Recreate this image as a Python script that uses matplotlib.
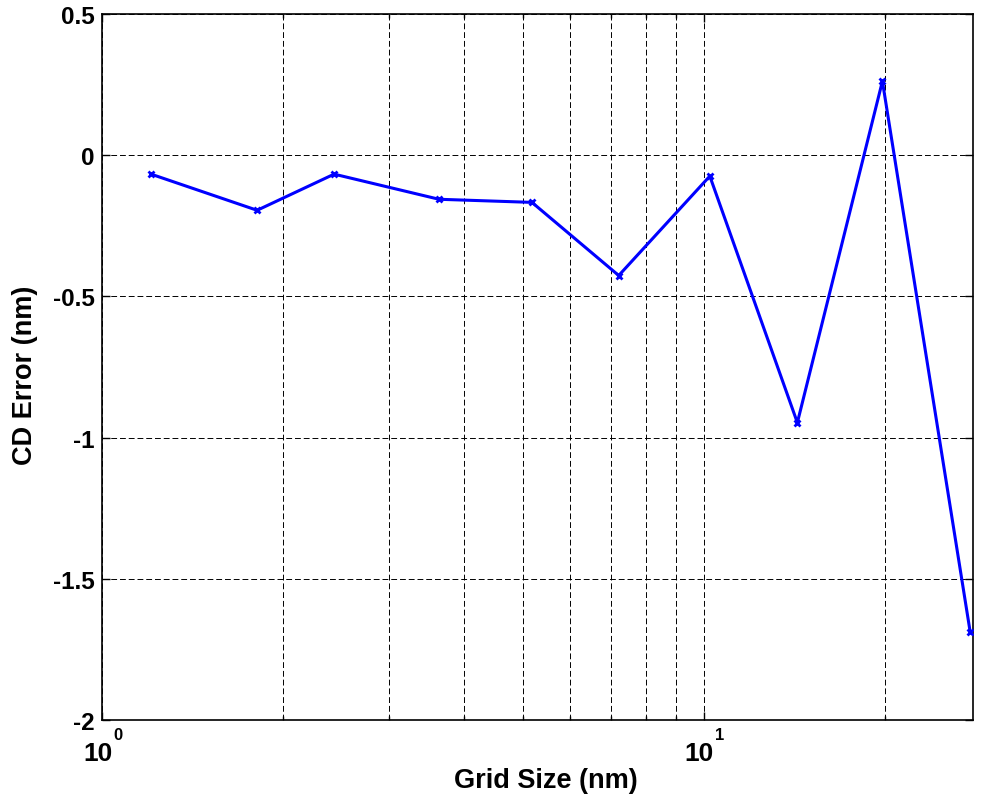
import numpy as np
import matplotlib
matplotlib.use("Agg")
import matplotlib.pyplot as plt
import matplotlib.ticker as mticker

# values
grid_size = [1.206, 1.81, 2.43, 3.63, 5.18, 7.22, 10.23, 14.3, 19.8, 27.7]
cd_error = [-0.067, -0.195, -0.067, -0.156, -0.167, -0.426, -0.074, -0.947, 0.262, -1.688]
y_ticks = [-2, -1.5, -1, -0.5, 0, 0.5]
y_labels = ["-2", "-1.5", "-1", "-0.5", "0", "0.5"]
x_decades = [0, 1]

plt.rcParams["font.family"] = ["Liberation Sans", "DejaVu Sans"]
plt.rcParams["font.weight"] = "bold"

fig = plt.figure(figsize=(9.85, 8.03), dpi=100)
ax = fig.add_axes([0.1036, 0.1021, 0.8842, 0.8792])

ax.plot(grid_size, cd_error, color="#0000ff", linewidth=2.2, marker="x",
        markersize=5, markeredgewidth=2, zorder=3)

ax.set_xscale("log")
ax.set_xlim(1, 28)
ax.set_ylim(-2, 0.5)
ax.set_yticks(y_ticks)
ax.set_yticklabels(y_labels)
ax.xaxis.set_major_locator(mticker.FixedLocator([10.0 ** d for d in x_decades]))
ax.xaxis.set_major_formatter(mticker.NullFormatter())
ax.xaxis.set_minor_locator(mticker.LogLocator(base=10, subs=np.arange(2, 10)))
ax.xaxis.set_minor_formatter(mticker.NullFormatter())

# MATLAB-style 10^n labels: base and raised exponent
for d in x_decades:
    ax.annotate("10", xy=(10.0 ** d, 0), xycoords=("data", "axes fraction"),
                xytext=(-3.2, -28.8), textcoords="offset points",
                ha="center", va="baseline", fontsize=19, fontweight="bold")
    ax.annotate(str(d), xy=(10.0 ** d, 0), xycoords=("data", "axes fraction"),
                xytext=(8, -14), textcoords="offset points",
                ha="left", va="baseline", fontsize=12, fontweight="bold")

ax.grid(True, which="both", axis="x", color="black", linestyle=(0, (6, 3)), linewidth=0.7)
ax.grid(True, which="major", axis="y", color="black", linestyle=(0, (6, 3)), linewidth=0.7)

ax.tick_params(which="both", direction="in", top=True, right=True, width=1)
ax.tick_params(axis="y", labelsize=17.5, pad=5.5)
ax.tick_params(which="major", length=6)
ax.tick_params(which="minor", length=3)
for s in ax.spines.values():
    s.set_linewidth(1.2)

ax.set_xlabel("Grid Size (nm)", fontsize=19.5, fontweight="bold", va="top")
ax.xaxis.set_label_coords(0.51, -0.066)
ax.set_ylabel("CD Error (nm)", fontsize=19.5, fontweight="bold")
ax.yaxis.set_label_coords(-0.073, 0.49)

fig.savefig("out.png", dpi=100)
